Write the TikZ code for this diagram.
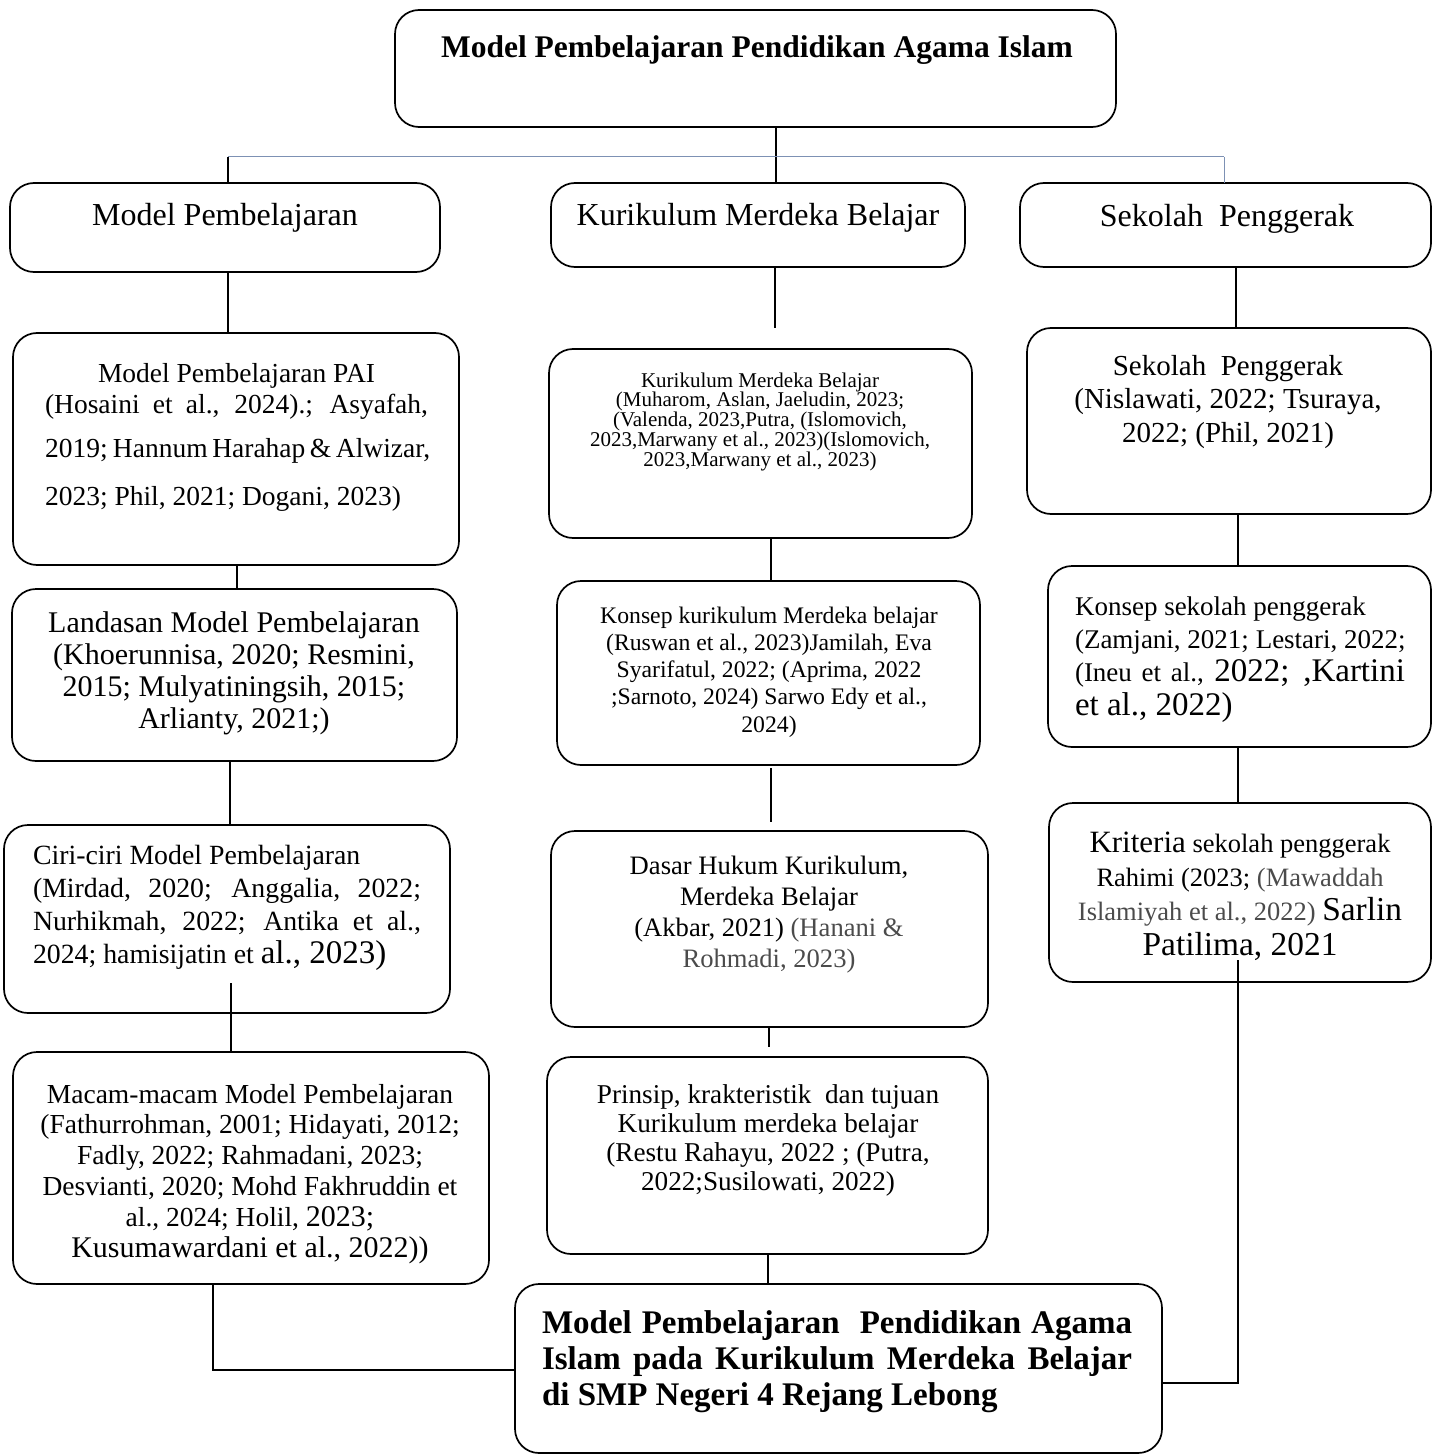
\documentclass[tikz,border=0pt]{standalone}
\usepackage{fontspec}
\setmainfont{Liberation Serif}
\newcommand\FS[2]{\fontsize{#1}{#2}\selectfont}
\definecolor{lnblue}{RGB}{125,145,180}
\definecolor{txtgray}{RGB}{75,75,75}
\newcommand\BX[5]{\node[box, anchor=north west, minimum width={(#4-#2)*1pt}, minimum height={(#5-#3)*1pt}] (#1) at (#2,#3) {};}
\begin{document}
\lineskiplimit=-100pt
\lineskip=0pt
\begin{tikzpicture}[x=1pt,y=-1pt,
  box/.style={draw, line width=1.7pt, rounded corners=24pt, inner sep=0pt, outer sep=0pt},
  conn/.style={line width=1.2pt},
  thick conn/.style={line width=2.4pt},
  hl/.style={line width=1pt, draw=lnblue},
  txt/.style={inner sep=0pt, outer sep=0pt}]
\useasboundingbox (0,0) rectangle (1433,1455);

% boxes
\BX{top}{395}{10}{1116}{127}
\BX{mp}{10}{183}{440}{272}
\BX{kmb}{551}{183}{965}{267}
\BX{sp}{1020}{183}{1431}{267}
\BX{pai}{13}{333}{459}{565}
\BX{kmbb}{549}{349}{972}{538}
\BX{spb}{1027}{328}{1431}{514}
\BX{land}{12}{589}{457}{761}
\BX{konsep}{557}{581}{980}{765}
\BX{ksp}{1048}{566}{1431}{747}
\BX{ciri}{4}{825}{450}{1013}
\BX{dasar}{551}{831}{988}{1027}
\BX{krit}{1049}{803}{1431}{982}
\BX{macam}{13}{1052}{489}{1284}
\BX{prinsip}{547}{1057}{988}{1254}
\BX{bottom}{515}{1284}{1162}{1453}

% texts (base anchor of a multi-line node = baseline of its last line)
\node[txt, anchor=base, font=\bfseries\FS{31.5}{36}] (top-t) at (757,58) {Model Pembelajaran Pendidikan Agama Islam};
\node[txt, anchor=base, font=\FS{32}{36}] (mp-t) at (225,226) {Model Pembelajaran};
\node[txt, anchor=base, font=\FS{32}{36}] (kmb-t) at (758,226) {Kurikulum Merdeka Belajar};
\node[txt, anchor=base, font=\FS{32}{36}] (sp-t) at (1227,227) {Sekolah\ \ Penggerak};

\node[txt, anchor=base west, align=left, font=\FS{27.5}{31}] (pai-t) at (45,505)
 {\makebox[383pt][c]{Model Pembelajaran PAI}\\
  \makebox[383pt][s]{(Hosaini et al., 2024).; Asyafah,}\\[13pt]
  \makebox[383pt][s]{2019; Hannum Harahap \& Alwizar,}\\[17pt]
  2023; Phil, 2021; Dogani, 2023)};

\node[txt, anchor=base, align=center, font=\FS{21}{19.7}] (kmbb-t) at (760,466)
 {Kurikulum Merdeka Belajar\\(Muharom, Aslan, Jaeludin, 2023;\\(Valenda, 2023,Putra, (Islomovich,\\2023,Marwany et al., 2023)(Islomovich,\\2023,Marwany et al., 2023)};

\node[txt, anchor=base, align=center, font=\FS{29}{33.5}] (spb-t) at (1228,442)
 {Sekolah\ \ Penggerak\\(Nislawati, 2022; Tsuraya,\\2022; (Phil, 2021)};

\node[txt, anchor=base, align=center, font=\FS{30}{31.7}] (land-t) at (234,728)
 {Landasan Model Pembelajaran\\(Khoerunnisa, 2020; Resmini,\\2015; Mulyatiningsih, 2015;\\Arlianty, 2021;)};

\node[txt, anchor=base, align=center, font=\FS{23.7}{27.2}] (konsep-t) at (769,732)
 {Konsep kurikulum Merdeka belajar\\(Ruswan et al., 2023)Jamilah, Eva\\Syarifatul, 2022; (Aprima, 2022\\;Sarnoto, 2024) Sarwo Edy et al.,\\2024)};

\node[txt, anchor=base west, align=left, font=\FS{27}{33.3}] (ksp-t) at (1075,715)
 {Konsep sekolah penggerak\\(Zamjani, 2021; Lestari, 2022;\\
  \makebox[330pt][s]{(Ineu et al., {\FS{33}{33.3}2022; ,Kartini}}\\
  {\FS{33}{33.3}et al., 2022)}};

\node[txt, anchor=base west, align=left, font=\FS{27.8}{32.7}] (ciri-t) at (33,963)
 {Ciri-ciri Model Pembelajaran\\
  \makebox[388pt][s]{(Mirdad, 2020; Anggalia, 2022;}\\
  \makebox[388pt][s]{Nurhikmah, 2022; Antika et al.,}\\
  2024; hamisijatin et {\FS{33}{32.7}al., 2023)}};

\node[txt, anchor=base, align=center, font=\FS{26.6}{30.7}] (dasar-t) at (769,967)
 {Dasar Hukum Kurikulum,\\Merdeka Belajar\\(Akbar, 2021) \textcolor{txtgray}{(Hanani \&}\\\textcolor{txtgray}{Rohmadi, 2023)}};

\node[txt, anchor=base, align=center, font=\FS{26.5}{34.3}] (krit-t) at (1240,955)
 {{\FS{31}{34.3}Kriteria} sekolah penggerak\\Rahimi (2023; \textcolor{txtgray}{(Mawaddah}\\\textcolor{txtgray}{Islamiyah et al., 2022)} {\FS{33.4}{34.3}Sarlin}\\{\FS{33.4}{34.3}Patilima, 2021}};

\node[txt, anchor=base, align=center, font=\FS{27.5}{30.8}] (macam-t) at (250,1257)
 {Macam-macam Model Pembelajaran\\(Fathurrohman, 2001; Hidayati, 2012;\\Fadly, 2022; Rahmadani, 2023;\\Desvianti, 2020; Mohd Fakhruddin et\\al., 2024; Holil, {\FS{30}{30.8}2023;}\\{\FS{30}{30.8}Kusumawardani et al., 2022))}};

\node[txt, anchor=base, align=center, font=\FS{27.2}{29}] (prinsip-t) at (768,1190)
 {Prinsip, krakteristik\ \ dan tujuan\\Kurikulum merdeka belajar\\(Restu Rahayu, 2022 ; (Putra,\\2022;Susilowati, 2022)};

\node[txt, anchor=base west, align=left, font=\bfseries\FS{33}{36}] (bottom-t) at (542,1405)
 {\makebox[590pt][s]{Model Pembelajaran\ \ Pendidikan Agama}\\
  \makebox[590pt][s]{Islam pada Kurikulum Merdeka Belajar}\\
  di SMP Negeri 4 Rejang Lebong};

% connectors
\coordinate (hC) at (776,157);
\coordinate (hL) at (228,157);
\coordinate (hR) at (1224,157);
\draw[conn] (top.south -| hC) -- (hC);
\draw[hl] (hL) -- (hR);
\draw[conn] (hL) -- (hL |- mp.north);
\draw[conn] (hC) -- (hC |- kmb.north);
\draw[hl] (hR) -- (hR |- sp.north);

\coordinate (x1) at (228,300);
\draw[conn] (mp.south -| x1) -- (pai.north -| x1);
\coordinate (e1) at (775,328);
\draw[conn] (kmb.south -| e1) -- (e1);
\coordinate (x2) at (1236,300);
\draw[conn] (sp.south -| x2) -- (spb.north -| x2);

\coordinate (x3) at (237,580);
\draw[conn] (pai.south -| x3) -- (land.north -| x3);
\coordinate (x4) at (771,560);
\draw[conn] (kmbb.south -| x4) -- (konsep.north -| x4);
\coordinate (x5) at (1238,540);
\draw[conn] (spb.south -| x5) -- (ksp.north -| x5);

\coordinate (x6) at (230,790);
\draw[conn] (land.south -| x6) -- (ciri.north -| x6);
\coordinate (x7) at (771,790);
\draw[thick conn, shorten <=3pt, shorten >=9pt] (konsep.south -| x7) -- (dasar.north -| x7);
\coordinate (x8) at (1238,780);
\draw[conn] (ksp.south -| x8) -- (krit.north -| x8);

\coordinate (s1) at (231,983);
\draw[conn] (s1) -- (s1 |- macam.north);
\coordinate (x9) at (769,1040);
\draw[conn, shorten >=10pt] (dasar.south -| x9) -- (prinsip.north -| x9);

\coordinate (s2) at (1238,960);
\coordinate (k2) at (1238,1383);
\draw[conn] (s2) -- (k2) -- (k2 -| bottom.east);
\coordinate (k1) at (213,1370);
\draw[conn] (macam.south -| k1) -- (k1) -- (k1 -| bottom.west);
\coordinate (x10) at (768,1270);
\draw[conn] (prinsip.south -| x10) -- (bottom.north -| x10);
\end{tikzpicture}
\end{document}
